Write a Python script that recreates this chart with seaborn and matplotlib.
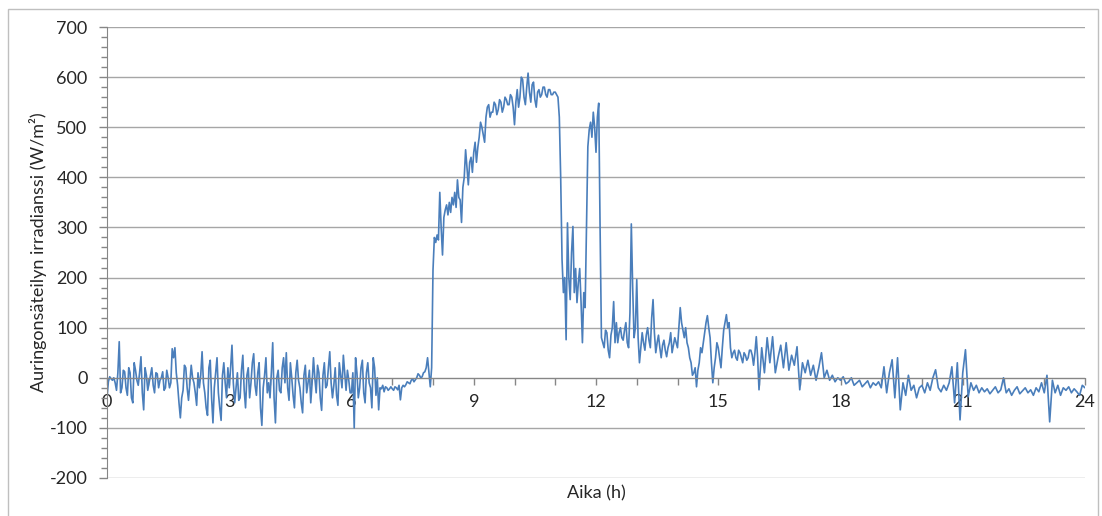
import numpy as np
import pandas as pd
import matplotlib
matplotlib.use("Agg")
import matplotlib.pyplot as plt
import seaborn as sns
from matplotlib.patches import Rectangle
from matplotlib.ticker import MultipleLocator

# Irradiance readings (W/m2).
# 0-16 h: one value every 2 minutes
irr_00_02 = [
    -40, -8, 2, -2, -5, 0, -10, -25, 10, 72, -30, -20, 15, 12, -20,
    -35, 20, 10, -40, -50, 30, 15, -5, -15, 10, 42, -30, -64, 20, 5,
    -25, -10, 5, 20, -15, -30, 10, 8, -20, -5, 0, 12, -25, -20, 15,
    0, -20, -10, 58, 40, 60, 10, -15, -50, -80, -40, -25, 25, 20, -20,
]
irr_02_04 = [
    -45, -10, 25, 0, -10, -30, -55, 10, -20, 5, 52, -10, -30, -60, -75,
    20, 35, -40, -90, -20, 10, 40, -30, -60, -85, 5, 30, -10, -40, 20,
    -20, 20, 65, -10, -50, -20, 10, -45, -40, 15, 45, -25, -60, 5, 20,
    -40, -10, 30, 48, -15, -35, 10, 30, -60, -95, -20, 5, 40, -30, -10,
]
irr_04_06 = [
    -40, 10, 70, -40, -90, 0, 15, -25, -30, 20, 40, -10, 50, -20, -45,
    30, 0, -35, -60, 10, 35, -5, -20, -50, -70, 5, 25, -30, -10, 15,
    -50, -10, 40, 0, -30, 25, 10, -40, -65, 5, 30, -20, -15, 20, 52,
    -10, -40, -15, 20, -35, -55, 30, 5, -20, 45, 10, -25, 15, -5, -30,
]
irr_06_08 = [
    -30, 10, -100, 40, 10, -40, -20, 20, 35, -30, -50, 10, 30, -10, -20,
    -60, 40, 20, -35, 0, -64, -20, -22, -15, -28, -18, -20, -25, -22, -18,
    -22, -25, -18, -20, -24, -15, -44, -20, -15, -18, -14, -8, -10, -12, -5,
    -2, -8, -4, 0, 8, 5, 0, 2, 10, 12, 20, 40, 10, -18, 20,
]
irr_08_10 = [
    215, 280, 270, 285, 275, 370, 300, 245, 320, 335, 345, 325, 350, 330, 360,
    345, 370, 340, 395, 360, 355, 310, 380, 400, 455, 420, 385, 430, 440, 410,
    450, 470, 430, 460, 480, 510, 500, 485, 470, 520, 540, 545, 520, 530, 530,
    550, 545, 525, 535, 555, 550, 530, 540, 560, 555, 545, 545, 565, 560, 540,
]
irr_10_12 = [
    505, 550, 575, 540, 560, 600, 595, 560, 545, 580, 608, 570, 550, 585, 590,
    555, 540, 570, 575, 560, 565, 580, 580, 565, 560, 575, 575, 565, 565, 570,
    570, 565, 560, 520, 400, 236, 170, 200, 76, 309, 200, 156, 250, 302, 170,
    218, 150, 190, 218, 150, 70, 170, 140, 300, 461, 495, 510, 480, 530, 500,
]
irr_12_14 = [
    450, 520, 548, 300, 80, 70, 60, 95, 90, 55, 40, 85, 100, 152, 70,
    110, 70, 90, 100, 80, 75, 95, 110, 70, 60, 130, 307, 180, 80, 100,
    196, 80, 30, 60, 90, 70, 55, 85, 100, 75, 60, 120, 156, 90, 50,
    70, 85, 60, 40, 65, 75, 55, 42, 60, 70, 90, 50, 65, 80, 70,
]
irr_14_16 = [
    60, 100, 140, 110, 95, 80, 100, 70, 60, 40, 30, 5, 10, 20, -18,
    15, 30, 60, 50, 70, 90, 110, 124, 100, 80, 30, -10, 20, 40, 70,
    60, 40, 20, 60, 95, 110, 126, 100, 110, 60, 40, 50, 55, 40, 35,
    55, 50, 40, 30, 50, 45, 35, 40, 55, 55, 45, 25, 50, 82, 40,
]

# 16-24 h: one value every 4 minutes
irr_16_20 = [
    -24, 60, 10, 80, 30, 82, 10, 40, 65, 20, 70, 15, 45, 25, 62,
    -24, 30, 10, 35, 5, 25, -5, 20, 50, 0, 15, -5, 5, -8, 0,
    -5, 2, -12, -8, 0, -15, -10, -5, -18, -12, -6, -20, -10, -15, -8,
    -20, 22, -30, 10, 36, -40, 40, -64, -10, -35, 5, -25, -15, -40, -20,
]
irr_20_24 = [
    -15, -30, -10, -25, 0, 16, -20, -28, -15, -25, -10, 22, -50, 30, -84,
    10, 56, -38, -10, -25, -15, -30, -20, -28, -22, -32, -25, -18, -30, -24,
    0, -30, -22, -35, -25, -18, -32, -26, -20, -30, -24, -35, -20, -28, -10,
    -30, 5, -88, -5, -30, -15, -35, -20, -25, -18, -30, -22, -28, -35, -15,
    -20,
]

fine = (irr_00_02 + irr_02_04 + irr_04_06 + irr_06_08
        + irr_08_10 + irr_10_12 + irr_12_14 + irr_14_16)
coarse = irr_16_20 + irr_20_24
fine_hours = np.arange(len(fine)) * 2 / 60
coarse_hours = 16 + np.arange(len(coarse)) * 4 / 60

df = pd.DataFrame({
    "Aika": np.concatenate([fine_hours, coarse_hours]),
    "Irradianssi": fine + coarse,
})

sns.set_style("white")
plt.rcParams["font.family"] = ["Lato", "DejaVu Sans"]
plt.rcParams["axes.unicode_minus"] = False

W, H = 1102, 516
fig = plt.figure(figsize=(W / 100, H / 100), dpi=100)
ax = fig.add_axes([107 / W, 38 / H, 978 / W, 451 / H])

sns.lineplot(data=df, x="Aika", y="Irradianssi", color="#4a7ebb",
             linewidth=1.2, ax=ax)

ax.set_xlim(0, 24)
ax.set_ylim(-200, 700)

# y axis: gridlines every 100, minor ticks every 20
ax.set_yticks(range(-200, 701, 100))
ax.yaxis.set_minor_locator(MultipleLocator(20))
ax.yaxis.grid(True, color="#a6a6a6", linewidth=1)
ax.set_axisbelow(True)
ax.tick_params(axis="y", which="major", length=6, width=1, color="#868686",
               labelsize=13, pad=8, left=True)
ax.tick_params(axis="y", which="minor", length=4, width=1, color="#868686",
               left=True)

# x axis crosses at zero, ticks every hour, labels every 3 h
ax.set_xticks(range(0, 25))
ax.set_xticklabels([str(h) if h % 3 == 0 else "" for h in range(25)])
ax.tick_params(axis="x", length=5, width=1, color="#868686", labelsize=13,
               pad=7, bottom=True)

for side in ["top", "right"]:
    ax.spines[side].set_visible(False)
ax.spines["left"].set_color("#868686")
ax.spines["bottom"].set_position(("data", 0))
ax.spines["bottom"].set_color("#868686")

ax.set_xlabel("Aika (h)", fontsize=13)
ax.xaxis.set_label_coords(0.5, -0.033)
ax.xaxis.label.set_va("center")
ax.set_ylabel("Auringonsäteilyn irradianssi (W/m²)", fontsize=13)
ax.yaxis.set_label_coords(-0.0613, 0.5)

# chart area border
fig.patches.append(Rectangle((8 / W, -0.1), (1098 - 8) / W, (H - 9) / H + 0.1,
                             transform=fig.transFigure, fill=False,
                             edgecolor="#bfbfbf", linewidth=1))

fig.savefig("out.png", dpi=100)
